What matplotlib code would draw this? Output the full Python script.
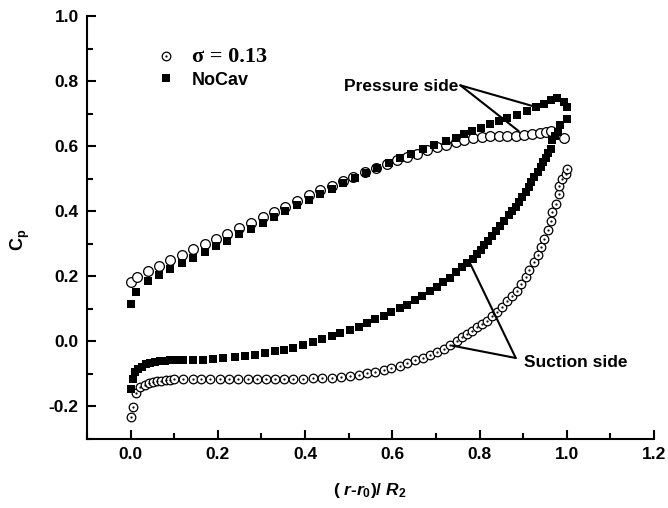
import matplotlib
matplotlib.use("Agg")
import matplotlib.pyplot as plt
from matplotlib.lines import Line2D
from matplotlib.legend_handler import HandlerTuple
from matplotlib.ticker import MultipleLocator, FormatStrFormatter

plt.rcParams['font.family'] = ['Liberation Sans', 'DejaVu Sans']
plt.rcParams['font.weight'] = 'bold'
plt.rcParams['axes.unicode_minus'] = False
plt.rcParams['mathtext.fontset'] = 'custom'
plt.rcParams['mathtext.rm'] = 'Liberation Sans:bold'
plt.rcParams['mathtext.it'] = 'Liberation Sans:bold:italic'
plt.rcParams['mathtext.bf'] = 'Liberation Sans:bold'

# ---- data: sigma = 0.13 (open circles) ----
cav_ps_x = [0.0, 0.015, 0.04, 0.065, 0.09, 0.117, 0.143, 0.17, 0.196, 0.221, 0.249, 0.275,
            0.303, 0.329, 0.354, 0.381, 0.408, 0.434, 0.461, 0.488, 0.511, 0.538, 0.563,
            0.588, 0.611, 0.634, 0.657, 0.68, 0.703, 0.722, 0.745, 0.764, 0.785, 0.806,
            0.825, 0.844, 0.864, 0.883, 0.902, 0.921, 0.939, 0.952, 0.963, 0.994]
cav_ps_y = [0.181, 0.197, 0.216, 0.233, 0.251, 0.267, 0.284, 0.298, 0.315, 0.329, 0.347, 0.364,
            0.382, 0.397, 0.413, 0.431, 0.45, 0.464, 0.479, 0.492, 0.505, 0.52, 0.534,
            0.546, 0.556, 0.566, 0.577, 0.587, 0.597, 0.604, 0.612, 0.62, 0.626, 0.628,
            0.63, 0.63, 0.63, 0.632, 0.633, 0.636, 0.64, 0.645, 0.647, 0.625]

cav_ss_x = [0.0, 0.005, 0.012, 0.022, 0.032, 0.042, 0.051, 0.061, 0.07, 0.08, 0.09, 0.099,
            0.12, 0.142, 0.162, 0.183, 0.205, 0.226, 0.247, 0.268, 0.289, 0.31, 0.331, 0.352,
            0.373, 0.396, 0.418, 0.438, 0.461, 0.482, 0.502, 0.523, 0.542, 0.561, 0.58,
            0.597, 0.617, 0.634, 0.653, 0.67, 0.687, 0.703, 0.718, 0.733, 0.749, 0.76,
            0.772, 0.783, 0.795, 0.806, 0.818, 0.829, 0.841, 0.852, 0.864, 0.875, 0.887,
            0.894, 0.906, 0.913, 0.925, 0.933, 0.94, 0.948, 0.956, 0.963, 0.967, 0.975,
            0.982, 0.982, 0.99, 0.998, 1.0]
cav_ss_y = [-0.232, -0.201, -0.16, -0.141, -0.134, -0.129, -0.126, -0.123, -0.121, -0.119, -0.118, -0.117,
            -0.116, -0.116, -0.116, -0.116, -0.116, -0.116, -0.116, -0.116, -0.116, -0.116, -0.116, -0.116,
            -0.115, -0.115, -0.114, -0.113, -0.111, -0.109, -0.106, -0.104, -0.098, -0.093, -0.088,
            -0.081, -0.075, -0.067, -0.057, -0.05, -0.042, -0.034, -0.023, -0.011, 0.002, 0.012,
            0.023, 0.033, 0.043, 0.054, 0.064, 0.079, 0.089, 0.105, 0.125, 0.141, 0.156,
            0.177, 0.197, 0.218, 0.243, 0.264, 0.289, 0.315, 0.341, 0.371, 0.397, 0.423,
            0.453, 0.479, 0.5, 0.515, 0.53]

# ---- data: NoCav (filled squares) ----
nocav_ps_x = [0.0, 0.013, 0.04, 0.065, 0.09, 0.117, 0.143, 0.17, 0.196, 0.221, 0.249, 0.275,
              0.303, 0.329, 0.354, 0.381, 0.408, 0.434, 0.461, 0.488, 0.514, 0.54, 0.566,
              0.592, 0.618, 0.644, 0.67, 0.696, 0.722, 0.745, 0.764, 0.783, 0.804, 0.824,
              0.845, 0.864, 0.887, 0.908, 0.929, 0.948, 0.963, 0.977, 0.994, 1.0]
nocav_ps_y = [0.115, 0.151, 0.185, 0.205, 0.223, 0.24, 0.257, 0.274, 0.292, 0.31, 0.329, 0.346,
              0.364, 0.382, 0.4, 0.418, 0.436, 0.453, 0.469, 0.486, 0.502, 0.518, 0.534,
              0.549, 0.563, 0.577, 0.591, 0.604, 0.616, 0.626, 0.636, 0.646, 0.656, 0.667,
              0.677, 0.687, 0.697, 0.708, 0.72, 0.731, 0.743, 0.749, 0.736, 0.72]

nocav_ss_x = [0.0, 0.005, 0.009, 0.017, 0.025, 0.035, 0.044, 0.055, 0.067, 0.078, 0.09, 0.101,
              0.12, 0.143, 0.166, 0.189, 0.212, 0.239, 0.262, 0.285, 0.308, 0.33, 0.352, 0.373,
              0.396, 0.418, 0.438, 0.461, 0.48, 0.502, 0.523, 0.542, 0.561, 0.58, 0.597,
              0.617, 0.634, 0.651, 0.668, 0.686, 0.703, 0.716, 0.732, 0.747, 0.76, 0.772,
              0.784, 0.795, 0.803, 0.81, 0.82, 0.829, 0.838, 0.848, 0.857, 0.867, 0.875,
              0.883, 0.89, 0.898, 0.906, 0.913, 0.919, 0.925, 0.933, 0.94, 0.946, 0.952,
              0.958, 0.963, 0.967, 0.972, 0.979, 0.984, 1.0]
nocav_ss_y = [-0.145, -0.116, -0.095, -0.085, -0.078, -0.071, -0.067, -0.064, -0.061, -0.059, -0.058, -0.057,
              -0.058, -0.058, -0.057, -0.055, -0.052, -0.049, -0.046, -0.042, -0.037, -0.031, -0.026, -0.019,
              -0.01, -0.003, 0.007, 0.018, 0.026, 0.036, 0.045, 0.057, 0.069, 0.079, 0.089,
              0.103, 0.113, 0.127, 0.141, 0.154, 0.168, 0.182, 0.195, 0.212, 0.228, 0.24,
              0.254, 0.269, 0.282, 0.295, 0.31, 0.325, 0.34, 0.356, 0.371, 0.387, 0.4,
              0.412, 0.427, 0.443, 0.458, 0.474, 0.49, 0.505, 0.52, 0.536, 0.55, 0.565,
              0.58, 0.592, 0.618, 0.63, 0.643, 0.664, 0.684]

xticks = [0.0, 0.2, 0.4, 0.6, 0.8, 1.0, 1.2]
yticks = [-0.2, 0.0, 0.2, 0.4, 0.6, 0.8, 1.0]

W, H = 668, 508
fig = plt.figure(figsize=(W / 100, H / 100), dpi=100)
ax = fig.add_axes([87 / W, 1 - 439 / H, (654 - 87) / W, (439 - 16) / H])

ps_circ_ms = 7.0
ss_circ_ms = 6.2
sq_ms = 5.5
ax.plot(cav_ps_x, cav_ps_y, 'o', ms=ps_circ_ms, mfc='white', mec='black', mew=0.9, ls='none', zorder=3)
ax.plot(cav_ss_x, cav_ss_y, 'o', ms=ss_circ_ms, mfc='white', mec='black', mew=0.9, ls='none', zorder=3)
ax.plot(cav_ss_x, cav_ss_y, '.', ms=1.2, color='black', ls='none', zorder=3)
ax.plot(nocav_ps_x, nocav_ps_y, 's', ms=sq_ms, color='black', mew=0, ls='none', zorder=4)
ax.plot(nocav_ss_x, nocav_ss_y, 's', ms=sq_ms, color='black', mew=0, ls='none', zorder=4)

ax.set_xlim(-0.1, 1.2)
ax.set_ylim(-0.3, 1.0)
ax.set_xticks(xticks)
ax.set_yticks(yticks)
ax.xaxis.set_minor_locator(MultipleLocator(0.1))
ax.yaxis.set_minor_locator(MultipleLocator(0.1))
ax.xaxis.set_major_formatter(FormatStrFormatter('%.1f'))
ax.yaxis.set_major_formatter(FormatStrFormatter('%.1f'))
ax.spines['top'].set_visible(False)
ax.spines['right'].set_visible(False)
for s in ('left', 'bottom'):
    ax.spines[s].set_linewidth(1.5)
ax.tick_params(which='major', direction='in', length=6.5, width=1.5, labelsize=12.5, pad=6)
ax.tick_params(which='minor', direction='in', length=4, width=1.5)
for lab in ax.get_xticklabels() + ax.get_yticklabels():
    lab.set_fontweight('bold')

# axis labels
fig.text(370 / W, 1 - 490 / H, '( $r$-$r_{0}$)/ $R_{2}$', ha='center', va='center',
         fontsize=12.5, fontweight='bold')
fig.text(20 / W, 1 - 240 / H, r'$\mathrm{C_{p}}$', ha='center', va='center',
         rotation=90, fontsize=13)

# annotations
ax.text(0.752, 0.784, 'Pressure side', ha='right', va='center', fontsize=12.5, fontweight='bold')
ax.annotate('', xy=(0.925, 0.722), xytext=(0.756, 0.787),
            arrowprops=dict(arrowstyle='-', lw=1.5, color='black', shrinkA=0, shrinkB=0))
ax.annotate('', xy=(0.89, 0.646), xytext=(0.756, 0.787),
            arrowprops=dict(arrowstyle='-', lw=1.5, color='black', shrinkA=0, shrinkB=0))
ax.text(0.901, -0.065, 'Suction side', ha='left', va='center', fontsize=12.5, fontweight='bold')
ax.annotate('', xy=(0.779, 0.238), xytext=(0.883, -0.051),
            arrowprops=dict(arrowstyle='-', lw=1.5, color='black', shrinkA=0, shrinkB=0))
ax.annotate('', xy=(0.737, -0.013), xytext=(0.883, -0.051),
            arrowprops=dict(arrowstyle='-', lw=1.5, color='black', shrinkA=0, shrinkB=0))

# legend
h_circ = Line2D([], [], marker='o', ms=ss_circ_ms, mfc='white', mec='black', mew=0.9, ls='none')
h_dot = Line2D([], [], marker='.', ms=1.2, color='black', ls='none')
h_sq = Line2D([], [], marker='s', ms=sq_ms, color='black', mew=0, ls='none')
leg = ax.legend([(h_circ, h_dot), h_sq], ['\u03c3 = 0.13', 'NoCav'],
                handler_map={tuple: HandlerTuple(ndivide=1)},
                loc='upper left', bbox_to_anchor=(157 / W, 1 - 47 / H),
                bbox_transform=fig.transFigure, frameon=False, fontsize=13,
                handlelength=1.0, handletextpad=0.95, labelspacing=0.25,
                borderpad=0, borderaxespad=0)
t0, t1 = leg.get_texts()
t0.set_fontfamily(['Liberation Serif', 'DejaVu Serif'])
t0.set_fontsize(16)
t0.set_fontweight('bold')
t1.set_fontweight('bold')

fig.savefig('out.png', dpi=100)
